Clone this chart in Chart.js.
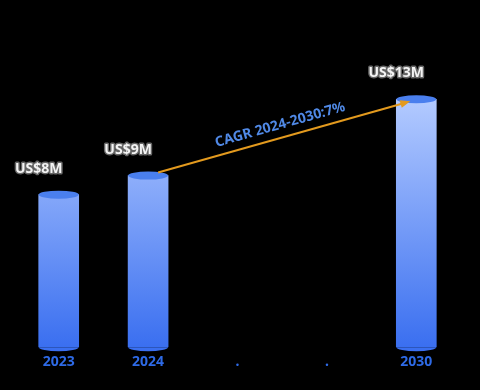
<!DOCTYPE html>
<html>
<head>
<meta charset="utf-8">
<script src="https://cdn.jsdelivr.net/npm/chart.js@4"></script>
<style>
  html, body { margin: 0; padding: 0; background: #000; }
  #wrap { width: 480px; height: 390px; }
</style>
</head>
<body>
<div id="wrap"><canvas id="chart"></canvas></div>
<script>
var years = ["2023", "2024", ".", ".", "2030"];
var market = [8, 9, null, null, 13];
var valueLabels = ["US$8M", "US$9M", "", "", "US$13M"];
var cagrText = "CAGR 2024-2030:7%";
var cagrFrom = 1;
var cagrTo = 4;

// cylinder caps, value labels and cagr arrow
var cylinderPlugin = {
    id: 'cylinder',
    afterDatasetsDraw: function (chart) {
        var c = chart.ctx;
        var meta = chart.getDatasetMeta(0);
        var base = chart.scales.y.getPixelForValue(0);
        meta.data.forEach(function (bar, i) {
            if (market[i] == null) return;
            var w = bar.width / 2;
            // bottom rounded edge
            c.save();
            c.fillStyle = '#3a6ff0';
            c.beginPath();
            c.ellipse(bar.x, base, w, 4, 0, 0, Math.PI);
            c.fill();
            // top cap
            c.fillStyle = '#4a7fee';
            c.beginPath();
            c.ellipse(bar.x, bar.y, w, 4, 0, 0, Math.PI * 2);
            c.fill();
            c.restore();

            // value label
            c.save();
            c.font = 'bold 14px "Noto Sans", sans-serif';
            c.textAlign = 'center';
            c.textBaseline = 'middle';
            c.lineWidth = 3;
            c.strokeStyle = '#666';
            c.lineJoin = 'round';
            c.strokeText(valueLabels[i], bar.x - 20, bar.y - 26);
            c.fillStyle = '#f4f4f4';
            c.fillText(valueLabels[i], bar.x - 20, bar.y - 26);
            c.restore();
        });

        // cagr arrow
        var a = meta.data[cagrFrom], b = meta.data[cagrTo];
        var x1 = a.x + 10, y1 = a.y - 3;
        var x2 = b.x - 6, y2 = b.y + 2;
        var ang = Math.atan2(y2 - y1, x2 - x1);
        c.save();
        c.strokeStyle = '#e39a1e';
        c.fillStyle = '#e39a1e';
        c.lineWidth = 2;
        c.beginPath();
        c.moveTo(x1, y1);
        c.lineTo(x2 - 6 * Math.cos(ang), y2 - 6 * Math.sin(ang));
        c.stroke();
        c.beginPath();
        c.moveTo(x2, y2);
        c.lineTo(x2 - 10 * Math.cos(ang) + 4 * Math.sin(ang), y2 - 10 * Math.sin(ang) - 4 * Math.cos(ang));
        c.lineTo(x2 - 10 * Math.cos(ang) - 4 * Math.sin(ang), y2 - 10 * Math.sin(ang) + 4 * Math.cos(ang));
        c.closePath();
        c.fill();

        c.translate((x1 + x2) / 2 - 4, (y1 + y2) / 2 - 12);
        c.rotate(ang);
        c.font = 'bold 14px "Noto Sans", sans-serif';
        c.fillStyle = '#5089e6';
        c.textAlign = 'center';
        c.textBaseline = 'middle';
        c.fillText(cagrText, 0, 0);
        c.restore();
    }
};

var ctx = document.getElementById("chart");

var chartGraph = new Chart(ctx, {
    type: 'bar',
    data: {
        labels: years,
        datasets: [{
            label: "Market",
            data: market,
            barThickness: 40,
            backgroundColor: function (context) {
                var area = context.chart.chartArea;
                if (!area) return '#6f9cf8';
                var y0 = context.chart.scales.y.getPixelForValue(0);
                var g = context.chart.ctx.createLinearGradient(0, y0 - 250, 0, y0);
                g.addColorStop(0, '#b4cbff');
                g.addColorStop(1, '#3a6ff0');
                return g;
            },
            borderWidth: 0
        }]
    },
    options: {
        responsive: true,
        maintainAspectRatio: false,
        animation: false,
        layout: {
            padding: { left: 14, right: 19, top: 23, bottom: 14 }
        },
        plugins: {
            legend: { display: false },
            tooltip: { enabled: false }
        },
        scales: {
            x: {
                grid: { display: false, drawTicks: false },
                border: { display: false },
                ticks: {
                    color: '#2e6ae6',
                    padding: 6,
                    font: { size: 14, weight: 'bold', family: '"Noto Sans", sans-serif' }
                }
            },
            y: {
                display: false,
                min: 0,
                max: 17
            }
        }
    },
    plugins: [cylinderPlugin]
});
</script>
</body>
</html>
